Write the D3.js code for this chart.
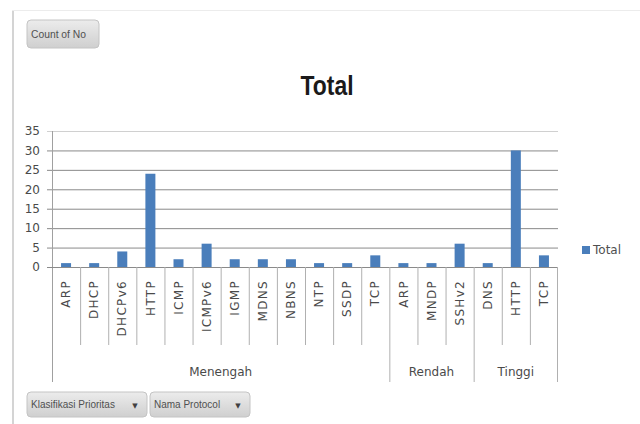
<!DOCTYPE html>
<html>
<head>
<meta charset="utf-8">
<script src="https://cdn.jsdelivr.net/npm/d3@7"></script>
<style>
  html, body { margin: 0; padding: 0; background: #fff; }
  svg { display: block; }
</style>
</head>
<body>
<svg id="chart" width="640" height="424"></svg>
<script>
// ---- data ----
const categories = ["ARP","DHCP","DHCPv6","HTTP","ICMP","ICMPv6","IGMP","MDNS","NBNS","NTP","SSDP","TCP",
                    "ARP","MNDP","SSHv2",
                    "DNS","HTTP","TCP"];
const groupOf = ["Menengah","Menengah","Menengah","Menengah","Menengah","Menengah","Menengah","Menengah","Menengah","Menengah","Menengah","Menengah",
                 "Rendah","Rendah","Rendah",
                 "Tinggi","Tinggi","Tinggi"];
const groups = ["Menengah","Rendah","Tinggi"];
const values = [1,1,4,24,2,6,2,2,2,1,1,3, 1,1,6, 1,30,3];
const yTicks = [0,5,10,15,20,25,30,35];
const seriesName = "Total";
const chartTitle = "Total";
const valueFieldButton = "Count of No";
const axisFieldButtons = ["Klasifikasi Prioritas","Nama Protocol"];

// ---- layout ----
const svg = d3.select("#chart");
const plotL = 52, plotR = 558, plotT = 131, plotB = 267;
const barColor = "#4a7ebb";
const textColor = "#4a4a4a";

const idx = d3.range(categories.length);
const x = d3.scaleBand().domain(idx).range([plotL, plotR]).paddingInner(0).paddingOuter(0);
const y = d3.scaleLinear().domain([0, 35]).range([plotB, plotT]);

// frame lines
svg.append("line").attr("x1", 13).attr("x2", 13).attr("y1", 10).attr("y2", 424)
  .attr("stroke", "#d4d4d4").attr("stroke-width", 2);
svg.append("line").attr("x1", 12).attr("x2", 640).attr("y1", 10.5).attr("y2", 10.5)
  .attr("stroke", "#ececec").attr("stroke-width", 1);

// defs gradient for buttons
const defs = svg.append("defs");
const grad = defs.append("linearGradient").attr("id", "btn").attr("x1", 0).attr("x2", 0).attr("y1", 0).attr("y2", 1);
grad.append("stop").attr("offset", "0%").attr("stop-color", "#ececec");
grad.append("stop").attr("offset", "100%").attr("stop-color", "#cfcfcf");

// "Count of No" button
svg.append("rect").attr("x", 27).attr("y", 20).attr("width", 72).attr("height", 28).attr("rx", 4)
  .attr("fill", "url(#btn)").attr("stroke", "#c4c4c4");
svg.append("text").attr("x", 31).attr("y", 38).text(valueFieldButton)
  .attr("font-family", "Liberation Sans, Arial, sans-serif").attr("font-size", 10)
  .attr("fill", "#505050").attr("textLength", 55).attr("lengthAdjust", "spacingAndGlyphs");

// title
svg.append("text").attr("x", 327).attr("y", 95).attr("text-anchor", "middle").text(chartTitle)
  .attr("font-family", "Liberation Sans, Arial, sans-serif").attr("font-weight", "bold")
  .attr("font-size", 28).attr("fill", "#1a1a1a")
  .attr("textLength", 53).attr("lengthAdjust", "spacingAndGlyphs");

// y axis with gridlines
const yAxis = d3.axisLeft(y).tickValues(yTicks).tickSizeInner(-(plotR - plotL)).tickSizeOuter(0).tickPadding(12);
const gy = svg.append("g").attr("transform", `translate(${plotL},0)`).call(yAxis);
gy.select(".domain").remove();
gy.selectAll(".tick line").attr("x1", -5).attr("stroke", d => d === 35 ? "#d0d0d0" : "#8a8a8a");
gy.selectAll(".tick text").attr("font-family", "DejaVu Sans, sans-serif").attr("font-size", 12)
  .attr("fill", textColor);

// y axis line
svg.append("line").attr("x1", plotL + 0.5).attr("x2", plotL + 0.5).attr("y1", y(35)).attr("y2", 382)
  .attr("stroke", "#a0a0a0");

// bars
const bw = 10;
svg.append("g").selectAll("rect").data(idx).join("rect")
  .attr("x", i => x(i) + x.bandwidth() / 2 - bw / 2)
  .attr("y", i => y(values[i]))
  .attr("width", bw)
  .attr("height", i => y(0) - y(values[i]))
  .attr("fill", barColor);

// x axis baseline
svg.append("line").attr("x1", plotL).attr("x2", plotR).attr("y1", y(0) + 0.5).attr("y2", y(0) + 0.5)
  .attr("stroke", "#8a8a8a");

// category labels via axis
const xAxis = d3.axisBottom(x).tickFormat(i => categories[i]).tickSize(0).tickPadding(0);
const gx = svg.append("g").attr("transform", `translate(0,${y(0)})`).call(xAxis);
gx.select(".domain").remove();
gx.selectAll(".tick text")
  .attr("transform", "rotate(-90)")
  .attr("x", -13).attr("y", 0).attr("dy", "0.35em")
  .attr("text-anchor", "end")
  .attr("font-family", "DejaVu Sans, sans-serif").attr("font-size", 12)
  .attr("letter-spacing", "1.3px")
  .attr("fill", textColor);

// dividers between categories
const groupStart = groups.map(g => groupOf.indexOf(g));
idx.slice(1).forEach(i => {
  const isGroup = groupStart.includes(i);
  svg.append("line").attr("x1", x(i) + 0.5).attr("x2", x(i) + 0.5)
    .attr("y1", y(0)).attr("y2", isGroup ? 382 : 345)
    .attr("stroke", "#b0b0b0");
});
svg.append("line").attr("x1", plotR - 0.5).attr("x2", plotR - 0.5).attr("y1", y(0)).attr("y2", 382)
  .attr("stroke", "#b0b0b0");

// group labels
groups.forEach((g, k) => {
  const s = groupStart[k];
  const e = k < groups.length - 1 ? groupStart[k + 1] : categories.length;
  const x0 = x(s), x1 = e < categories.length ? x(e) : plotR;
  svg.append("text").attr("x", (x0 + x1) / 2).attr("y", 376).attr("text-anchor", "middle")
    .text(g).attr("font-family", "DejaVu Sans, sans-serif").attr("font-size", 12).attr("fill", textColor);
});

// legend
svg.append("rect").attr("x", 582).attr("y", 246).attr("width", 8).attr("height", 8).attr("fill", barColor);
svg.append("text").attr("x", 593).attr("y", 254).text(seriesName)
  .attr("font-family", "DejaVu Sans, sans-serif").attr("font-size", 12).attr("fill", "#505050");

// axis field buttons
const btnX = [27, 150], btnW = [120, 100];
axisFieldButtons.forEach((b, k) => {
  svg.append("rect").attr("x", btnX[k]).attr("y", 392).attr("width", btnW[k]).attr("height", 25).attr("rx", 4)
    .attr("fill", "url(#btn)").attr("stroke", "#c4c4c4");
  svg.append("text").attr("x", btnX[k] + 4).attr("y", 408).text(b)
    .attr("font-family", "Liberation Sans, Arial, sans-serif").attr("font-size", 10).attr("fill", "#505050");
  svg.append("text").attr("x", btnX[k] + btnW[k] - 12).attr("y", 408).attr("text-anchor", "middle").text("▼")
    .attr("font-family", "DejaVu Sans, sans-serif").attr("font-size", 7).attr("fill", "#404040");
});
</script>
</body>
</html>
